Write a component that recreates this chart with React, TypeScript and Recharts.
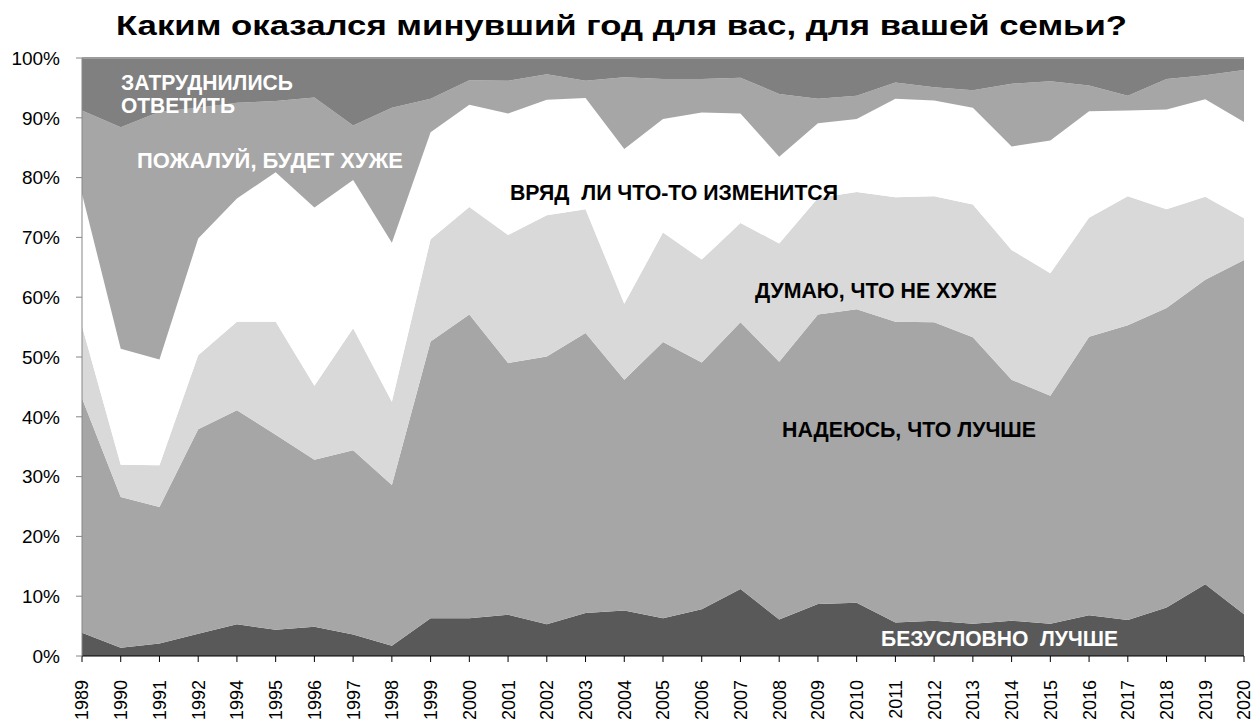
import React from 'react';
import { AreaChart, Area, XAxis, YAxis, ReferenceLine } from 'recharts';

// опрос: «Каким оказался минувший год для вас, для вашей семьи?», доли ответов, %
const years = [
  '1989', '1990', '1991', '1992', '1994', '1995', '1996', '1997', '1998', '1999',
  '2000', '2001', '2002', '2003', '2004', '2005', '2006', '2007', '2008', '2009',
  '2010', '2011', '2012', '2013', '2014', '2015', '2016', '2017', '2018', '2019', '2020',
];

const definitelyBetter = [3.9, 1.4, 2.1, 3.7, 5.3, 4.4, 4.9, 3.6, 1.7, 6.3, 6.3, 6.9, 5.3, 7.2, 7.6, 6.3, 7.8, 11.2, 6.1, 8.7, 8.9, 5.6, 5.9, 5.4, 5.9, 5.4, 6.8, 6.0, 8.1, 12.0, 7.0];
const hopeBetter = [39.2, 25.2, 22.8, 34.2, 35.8, 32.6, 27.9, 30.8, 26.9, 46.3, 50.8, 42.1, 44.8, 46.8, 38.6, 46.2, 41.3, 44.6, 43.1, 48.4, 49.1, 50.3, 49.9, 47.9, 40.3, 38.1, 46.6, 49.3, 50.1, 50.9, 59.2];
const notWorse = [12.1, 5.4, 7.0, 12.4, 14.8, 18.9, 12.4, 20.4, 13.9, 17.1, 18.0, 21.4, 23.6, 20.7, 12.7, 18.3, 17.2, 16.6, 19.8, 19.5, 19.6, 20.8, 21.1, 22.2, 21.7, 20.5, 19.9, 21.6, 16.5, 13.9, 7.0];
const noChange = [22.1, 19.4, 17.7, 19.5, 20.6, 25.0, 29.8, 24.8, 26.6, 17.9, 17.1, 20.3, 19.3, 18.6, 25.9, 19.0, 24.6, 18.3, 14.5, 12.5, 12.2, 16.5, 16.0, 16.2, 17.3, 22.2, 17.8, 14.3, 16.7, 16.3, 16.1];
const probablyWorse = [13.9, 37.0, 41.4, 21.9, 16.0, 11.9, 18.4, 9.1, 22.6, 5.6, 4.1, 5.5, 4.3, 2.9, 12.0, 6.7, 5.6, 6.0, 10.5, 4.1, 3.9, 2.7, 2.2, 2.9, 10.5, 9.9, 4.3, 2.5, 5.1, 4.0, 8.7];
const hardToSay = [8.8, 11.6, 9.0, 8.3, 7.5, 7.2, 6.6, 11.3, 8.3, 6.8, 3.7, 3.8, 2.7, 3.8, 3.2, 3.5, 3.5, 3.3, 6.0, 6.8, 6.3, 4.1, 4.9, 5.4, 4.3, 3.9, 4.6, 6.3, 3.5, 2.9, 2.0];

const yTicks = [0, 10, 20, 30, 40, 50, 60, 70, 80, 90, 100];

const data = years.map((year, i) => ({
  year,
  definitelyBetter: definitelyBetter[i],
  hopeBetter: hopeBetter[i],
  notWorse: notWorse[i],
  noChange: noChange[i],
  probablyWorse: probablyWorse[i],
  hardToSay: hardToSay[i],
}));

const FONT = '"Liberation Sans", Arial, sans-serif';

const YearTick = (props: any) => {
  const { x, y, payload } = props;
  return (
    <text
      x={x}
      y={y}
      dy="0.36em"
      transform={`rotate(-90, ${x}, ${y})`}
      textAnchor="end"
      fontSize={18}
      fontFamily={FONT}
      fill="#000"
    >
      {payload.value}
    </text>
  );
};

// подписи слоёв поверх графика
const labels = [
  { text: 'ЗАТРУДНИЛИСЬ', x: 121, y: 90, w: 172, color: '#fff' },
  { text: 'ОТВЕТИТЬ', x: 121, y: 112.5, w: 114, color: '#fff' },
  { text: 'ПОЖАЛУЙ, БУДЕТ ХУЖЕ', x: 137, y: 168, w: 266, color: '#fff' },
  { text: 'ВРЯД  ЛИ ЧТО-ТО ИЗМЕНИТСЯ', x: 510, y: 200, w: 328, color: '#000' },
  { text: 'ДУМАЮ, ЧТО НЕ ХУЖЕ', x: 755, y: 298, w: 242, color: '#000' },
  { text: 'НАДЕЮСЬ, ЧТО ЛУЧШЕ', x: 782, y: 437, w: 254, color: '#000' },
  { text: 'БЕЗУСЛОВНО  ЛУЧШЕ', x: 881, y: 646, w: 237, color: '#fff' },
];

export default function App() {
  return (
    <div style={{ position: 'absolute', left: 0, top: 0, width: 1256, height: 722, background: '#fff' }}>
      <AreaChart
        width={1256}
        height={722}
        data={data}
        margin={{ top: 58, right: 12, left: 0, bottom: 0 }}
      >
        <XAxis
          dataKey="year"
          interval={0}
          height={66}
          tickSize={6}
          tickMargin={18}
          tick={<YearTick />}
          axisLine={{ stroke: '#000' }}
          tickLine={{ stroke: '#000' }}
        />
        <YAxis
          width={82}
          domain={[0, 100]}
          ticks={yTicks}
          allowDataOverflow
          tickFormatter={(v: number) => `${v}%`}
          tickSize={6}
          tickMargin={16}
          tick={{ fontSize: 19, fill: '#000', fontFamily: FONT }}
          axisLine={{ stroke: '#868686' }}
          tickLine={{ stroke: '#868686' }}
        />
        <Area type="linear" dataKey="definitelyBetter" stackId="1" fill="#595959" fillOpacity={1} stroke="none" isAnimationActive={false} />
        <Area type="linear" dataKey="hopeBetter" stackId="1" fill="#a6a6a6" fillOpacity={1} stroke="none" isAnimationActive={false} />
        <Area type="linear" dataKey="notWorse" stackId="1" fill="#d9d9d9" fillOpacity={1} stroke="none" isAnimationActive={false} />
        <Area type="linear" dataKey="noChange" stackId="1" fill="#ffffff" fillOpacity={1} stroke="none" isAnimationActive={false} />
        <Area type="linear" dataKey="probablyWorse" stackId="1" fill="#a6a6a6" fillOpacity={1} stroke="none" isAnimationActive={false} />
        <Area type="linear" dataKey="hardToSay" stackId="1" fill="#808080" fillOpacity={1} stroke="none" isAnimationActive={false} />
        <ReferenceLine y={100} stroke="#9c9c9c" strokeWidth={2} />
      </AreaChart>
      <svg
        width={1256}
        height={722}
        style={{ position: 'absolute', left: 0, top: 0, pointerEvents: 'none' }}
      >
        <text
          x={116}
          y={35}
          fontSize={28}
          fontWeight="bold"
          fontFamily={FONT}
          fill="#000"
          textLength={1011}
          lengthAdjust="spacingAndGlyphs"
        >
          Каким оказался минувший год для вас, для вашей семьи?
        </text>
        {labels.map((l) => (
          <text
            key={l.text}
            x={l.x}
            y={l.y}
            fontSize={22}
            fontWeight="bold"
            fontFamily={FONT}
            fill={l.color}
            textLength={l.w}
            lengthAdjust="spacingAndGlyphs"
            xmlSpace="preserve"
            style={{ whiteSpace: 'pre' }}
          >
            {l.text}
          </text>
        ))}
      </svg>
    </div>
  );
}
